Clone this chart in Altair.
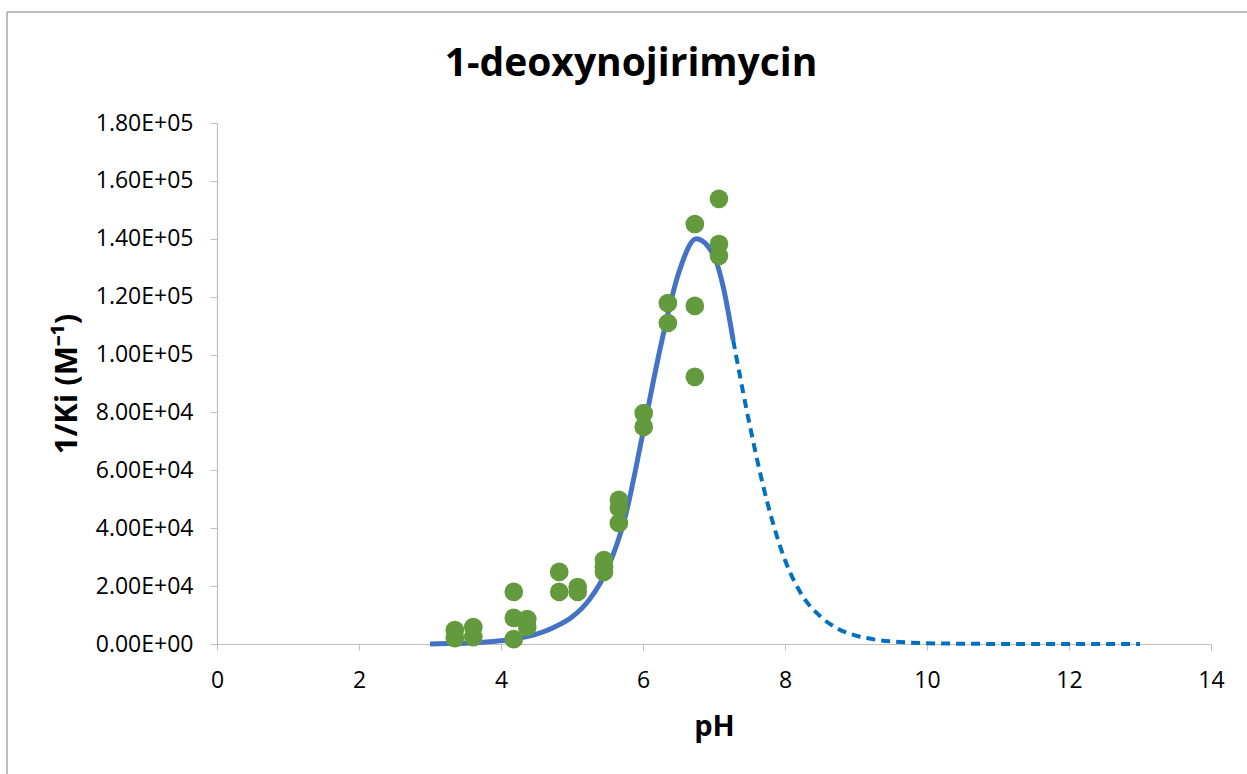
import altair as alt
import pandas as pd

# Measured data points (pH, 1/Ki)
pts_ph = [3.35, 3.35, 3.61, 3.61, 4.18, 4.18, 4.18, 4.37, 4.37,
          4.82, 4.82, 5.08, 5.08, 5.45, 5.45, 5.45,
          5.66, 5.66, 5.66, 6.01, 6.01, 6.35, 6.35,
          6.73, 6.73, 6.73, 7.07, 7.07, 7.07]
pts_ki = [4800, 2000, 5800, 2400, 18000, 9000, 1700, 8600, 5900,
          24900, 18000, 19700, 18000, 29000, 26500, 24900,
          49800, 47000, 41800, 79800, 75000, 117800, 110900,
          145100, 116800, 92300, 153800, 138200, 134100]

# Fitted curve, solid part (fitted range)
fit_ph = [3.0, 3.25, 3.5, 3.75, 4.0, 4.25, 4.5, 4.75, 5.0, 5.25, 5.5,
          5.75, 6.0, 6.25, 6.5, 6.75, 7.0, 7.13, 7.27]
fit_ki = [0, 150, 300, 600, 1100, 2000, 3400, 5800, 9300, 15500, 26000,
          44000, 73000, 103000, 128000, 140000, 134000, 123400, 105000]

# Extrapolated curve, dashed part
ext_ph = [7.27, 7.5, 7.75, 8.0, 8.25, 8.5, 8.75, 9.0, 9.25, 9.5, 9.75,
          10.0, 10.5, 11.0, 11.5, 12.0, 12.5, 13.0]
ext_ki = [105000, 76000, 49000, 29000, 16500, 9500, 5200, 2900, 1600, 900,
          500, 280, 90, 30, 10, 3, 1, 0]

x_ticks = [0, 2, 4, 6, 8, 10, 12, 14]
y_ticks = [0, 20000, 40000, 60000, 80000, 100000, 120000, 140000, 160000, 180000]

title_text = ["1-deoxynojirimycin"]

FONT = "Open Sans"

pts = pd.DataFrame({"pH": pts_ph, "ki": pts_ki})
fit = pd.DataFrame({"pH": fit_ph, "ki": fit_ki})
ext = pd.DataFrame({"pH": ext_ph, "ki": ext_ki})
ttl = pd.DataFrame({"t": title_text})

y_label_expr = ("datum.value == 0 ? '0.00E+00' : (datum.value >= 100000 ? "
                "format(datum.value/100000, '.2f') + 'E+05' : "
                "format(datum.value/10000, '.2f') + 'E+04')")

xscale = alt.Scale(domain=[0, 14], nice=False)
yscale = alt.Scale(domain=[0, 180000], nice=False)

x_axis = alt.Axis(values=x_ticks, title="pH", grid=False, format="d",
                  labelFlush=False,
                  labelFont=FONT, labelFontSize=23, labelColor="#000000",
                  labelPadding=19, tickSize=6, tickColor="#BFBFBF",
                  domainColor="#BFBFBF", domainWidth=1.2,
                  titleFont=FONT, titleFontSize=29, titleFontWeight="bold",
                  titleColor="#000000", titlePadding=20)
y_axis = alt.Axis(values=y_ticks, title="1/Ki (M⁻¹)", grid=False,
                  labelExpr=y_label_expr, labelFlush=False,
                  labelFont=FONT, labelFontSize=23, labelColor="#000000",
                  labelPadding=17, tickSize=7, tickColor="#BFBFBF",
                  domainColor="#BFBFBF", domainWidth=1.2,
                  titleFont=FONT, titleFontSize=31, titleFontWeight="bold",
                  titleColor="#000000", titlePadding=12)

solid = alt.Chart(fit).mark_line(color="#4472C4", strokeWidth=5,
                                 interpolate="monotone").encode(
    x=alt.X("pH:Q", scale=xscale, axis=x_axis),
    y=alt.Y("ki:Q", scale=yscale, axis=y_axis),
)
dashed = alt.Chart(ext).mark_line(color="#0070C0", strokeWidth=4,
                                  strokeDash=[9, 6],
                                  interpolate="monotone").encode(
    x=alt.X("pH:Q", scale=xscale),
    y=alt.Y("ki:Q", scale=yscale),
)
dots = alt.Chart(pts).mark_circle(color="#629A3D", opacity=1, size=350).encode(
    x=alt.X("pH:Q", scale=xscale),
    y=alt.Y("ki:Q", scale=yscale),
)

# chart title (centered over the whole chart area)
title = alt.Chart(ttl).mark_text(font=FONT, fontSize=39, fontWeight="bold",
                                 color="#000000", align="center",
                                 baseline="middle").encode(
    text="t:N", x=alt.value(414), y=alt.value(-59))

# chart-area border (top and left edges visible in the reference)
border_top = alt.Chart(ttl).mark_rule(color="#A6A6A6", strokeWidth=1.5).encode(
    x=alt.value(-210), x2=alt.value(1040), y=alt.value(-111))
border_left = alt.Chart(ttl).mark_rule(color="#A6A6A6", strokeWidth=1.5).encode(
    x=alt.value(-210), y=alt.value(-111), y2=alt.value(660))

chart = alt.layer(border_top, border_left, solid, dashed, dots, title).properties(
    width=994, height=521,
    autosize=alt.AutoSizeParams(type="none"),
    padding={"left": 217, "top": 123, "right": 36, "bottom": 130},
).configure(background="white", view=alt.ViewConfig(strokeWidth=0))

chart.save("out.html", embed_options={"renderer": "svg", "actions": False})
